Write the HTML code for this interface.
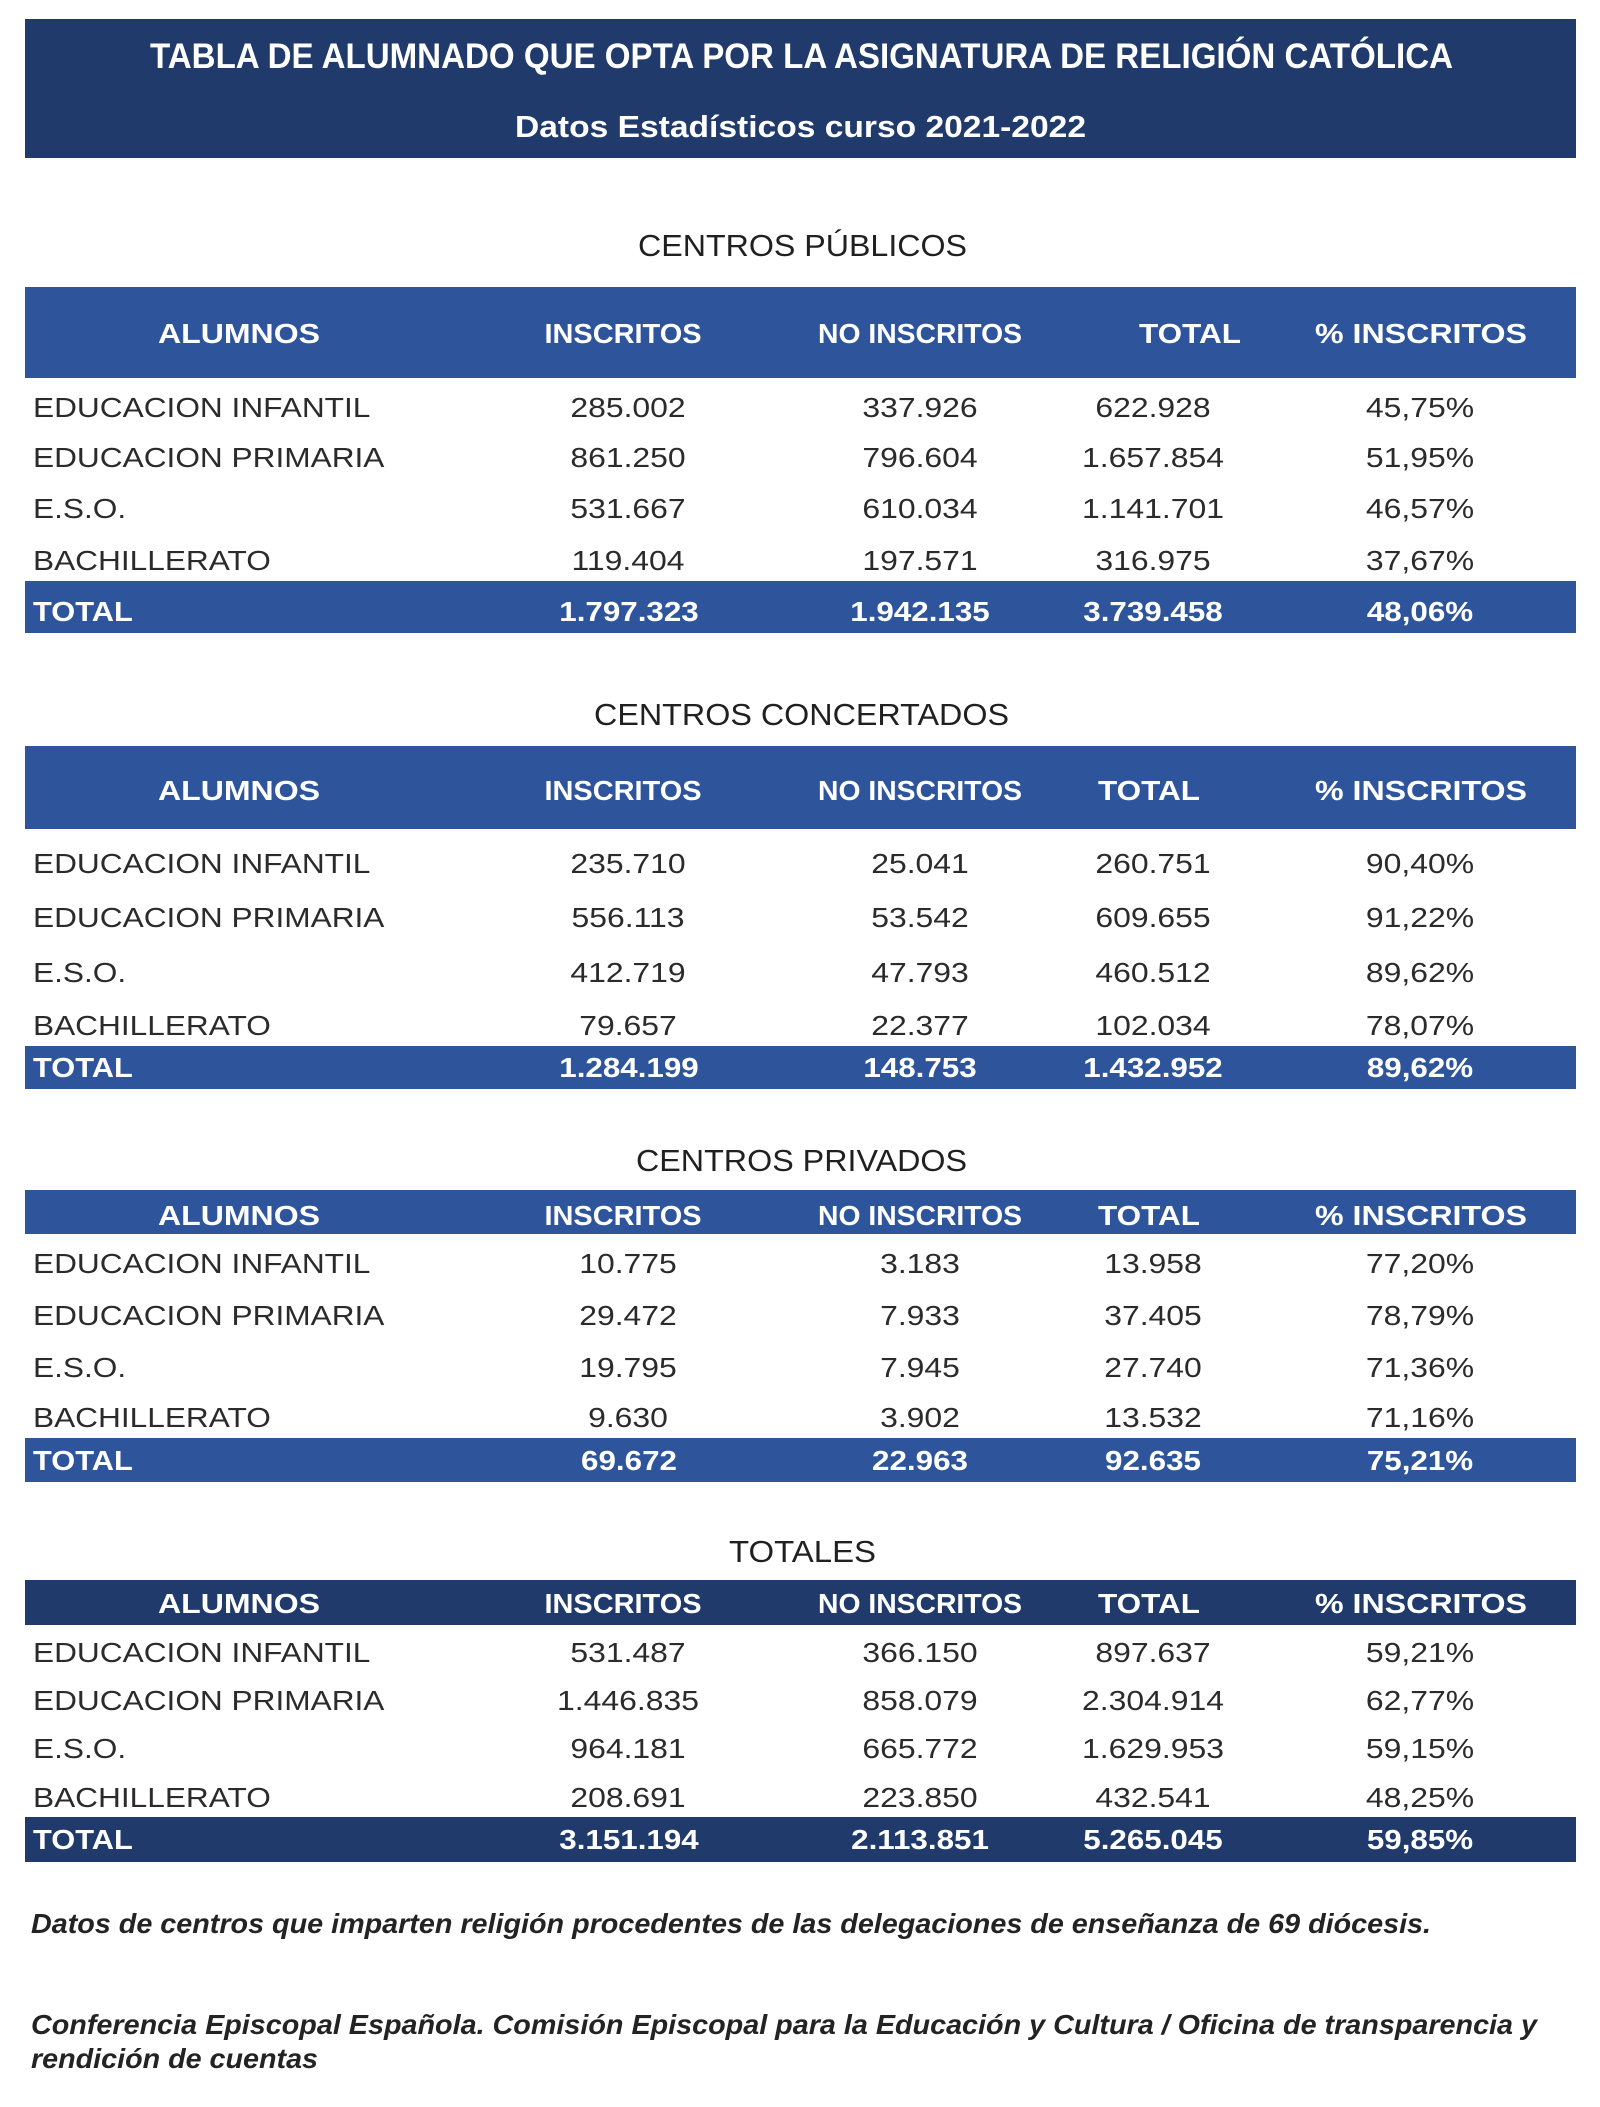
<!DOCTYPE html>
<html>
<head>
<meta charset="utf-8">
<style>
  html,body{margin:0;padding:0;background:#ffffff;}
  svg{display:block;}
  text{font-family:"Liberation Sans", Arial, sans-serif;}
  .d{font-size:28px;fill:#2b2b2b;}
  .h{font-size:28px;font-weight:bold;fill:#ffffff;}
  .hd{font-size:31px;fill:#202020;}
  .fn{font-size:28px;font-weight:bold;font-style:italic;fill:#232323;}
</style>
</head>
<body>
<svg width="1600" height="2107" viewBox="0 0 1600 2107" xmlns="http://www.w3.org/2000/svg">
  <rect x="0" y="0" width="1600" height="2107" fill="#ffffff"/>

  <!-- Title band -->
  <rect x="25" y="19" width="1551" height="139" fill="#203a6c"/>
  <text x="150" y="68" font-size="35" font-weight="bold" fill="#ffffff" textLength="1303" lengthAdjust="spacingAndGlyphs">TABLA DE ALUMNADO QUE OPTA POR LA ASIGNATURA DE RELIGIÓN CATÓLICA</text>
  <text x="515" y="137" font-size="31" font-weight="bold" fill="#ffffff" textLength="571" lengthAdjust="spacingAndGlyphs">Datos Estadísticos curso 2021-2022</text>

  <!-- ============ CENTROS PÚBLICOS ============ -->
  <text class="hd" x="638" y="256" textLength="329" lengthAdjust="spacingAndGlyphs">CENTROS PÚBLICOS</text>
  <rect x="25" y="287" width="1551" height="91" fill="#2e559c"/>
  <text class="h" x="239" y="343" text-anchor="middle" textLength="162" lengthAdjust="spacingAndGlyphs">ALUMNOS</text>
  <text class="h" x="623" y="343" text-anchor="middle" textLength="157" lengthAdjust="spacingAndGlyphs">INSCRITOS</text>
  <text class="h" x="920" y="343" text-anchor="middle" textLength="204" lengthAdjust="spacingAndGlyphs">NO INSCRITOS</text>
  <text class="h" x="1190" y="343" text-anchor="middle" textLength="102" lengthAdjust="spacingAndGlyphs">TOTAL</text>
  <text class="h" x="1421" y="343" text-anchor="middle" textLength="212" lengthAdjust="spacingAndGlyphs">% INSCRITOS</text>

  <text class="d" transform="translate(33,417) scale(1.13,1)">EDUCACION INFANTIL</text>
  <text class="d" text-anchor="middle" transform="translate(628,417) scale(1.14,1)">285.002</text>
  <text class="d" text-anchor="middle" transform="translate(920,417) scale(1.14,1)">337.926</text>
  <text class="d" text-anchor="middle" transform="translate(1153,417) scale(1.14,1)">622.928</text>
  <text class="d" text-anchor="middle" transform="translate(1420,417) scale(1.14,1)">45,75%</text>

  <text class="d" transform="translate(33,467) scale(1.13,1)">EDUCACION PRIMARIA</text>
  <text class="d" text-anchor="middle" transform="translate(628,467) scale(1.14,1)">861.250</text>
  <text class="d" text-anchor="middle" transform="translate(920,467) scale(1.14,1)">796.604</text>
  <text class="d" text-anchor="middle" transform="translate(1153,467) scale(1.14,1)">1.657.854</text>
  <text class="d" text-anchor="middle" transform="translate(1420,467) scale(1.14,1)">51,95%</text>

  <text class="d" transform="translate(33,518) scale(1.13,1)">E.S.O.</text>
  <text class="d" text-anchor="middle" transform="translate(628,518) scale(1.14,1)">531.667</text>
  <text class="d" text-anchor="middle" transform="translate(920,518) scale(1.14,1)">610.034</text>
  <text class="d" text-anchor="middle" transform="translate(1153,518) scale(1.14,1)">1.141.701</text>
  <text class="d" text-anchor="middle" transform="translate(1420,518) scale(1.14,1)">46,57%</text>

  <text class="d" transform="translate(33,570) scale(1.13,1)">BACHILLERATO</text>
  <text class="d" text-anchor="middle" transform="translate(628,570) scale(1.14,1)">119.404</text>
  <text class="d" text-anchor="middle" transform="translate(920,570) scale(1.14,1)">197.571</text>
  <text class="d" text-anchor="middle" transform="translate(1153,570) scale(1.14,1)">316.975</text>
  <text class="d" text-anchor="middle" transform="translate(1420,570) scale(1.14,1)">37,67%</text>

  <rect x="25" y="581" width="1551" height="52" fill="#2e559c"/>
  <text class="h" transform="translate(33,621) scale(1.1,1)">TOTAL</text>
  <text class="h" text-anchor="middle" transform="translate(629,621) scale(1.12,1)">1.797.323</text>
  <text class="h" text-anchor="middle" transform="translate(920,621) scale(1.12,1)">1.942.135</text>
  <text class="h" text-anchor="middle" transform="translate(1153,621) scale(1.12,1)">3.739.458</text>
  <text class="h" text-anchor="middle" transform="translate(1420,621) scale(1.12,1)">48,06%</text>

  <!-- ============ CENTROS CONCERTADOS ============ -->
  <text class="hd" x="594" y="725" textLength="415" lengthAdjust="spacingAndGlyphs">CENTROS CONCERTADOS</text>
  <rect x="25" y="746" width="1551" height="83" fill="#2e559c"/>
  <text class="h" x="239" y="800" text-anchor="middle" textLength="162" lengthAdjust="spacingAndGlyphs">ALUMNOS</text>
  <text class="h" x="623" y="800" text-anchor="middle" textLength="157" lengthAdjust="spacingAndGlyphs">INSCRITOS</text>
  <text class="h" x="920" y="800" text-anchor="middle" textLength="204" lengthAdjust="spacingAndGlyphs">NO INSCRITOS</text>
  <text class="h" x="1149" y="800" text-anchor="middle" textLength="102" lengthAdjust="spacingAndGlyphs">TOTAL</text>
  <text class="h" x="1421" y="800" text-anchor="middle" textLength="212" lengthAdjust="spacingAndGlyphs">% INSCRITOS</text>

  <text class="d" transform="translate(33,873) scale(1.13,1)">EDUCACION INFANTIL</text>
  <text class="d" text-anchor="middle" transform="translate(628,873) scale(1.14,1)">235.710</text>
  <text class="d" text-anchor="middle" transform="translate(920,873) scale(1.14,1)">25.041</text>
  <text class="d" text-anchor="middle" transform="translate(1153,873) scale(1.14,1)">260.751</text>
  <text class="d" text-anchor="middle" transform="translate(1420,873) scale(1.14,1)">90,40%</text>

  <text class="d" transform="translate(33,927) scale(1.13,1)">EDUCACION PRIMARIA</text>
  <text class="d" text-anchor="middle" transform="translate(628,927) scale(1.14,1)">556.113</text>
  <text class="d" text-anchor="middle" transform="translate(920,927) scale(1.14,1)">53.542</text>
  <text class="d" text-anchor="middle" transform="translate(1153,927) scale(1.14,1)">609.655</text>
  <text class="d" text-anchor="middle" transform="translate(1420,927) scale(1.14,1)">91,22%</text>

  <text class="d" transform="translate(33,982) scale(1.13,1)">E.S.O.</text>
  <text class="d" text-anchor="middle" transform="translate(628,982) scale(1.14,1)">412.719</text>
  <text class="d" text-anchor="middle" transform="translate(920,982) scale(1.14,1)">47.793</text>
  <text class="d" text-anchor="middle" transform="translate(1153,982) scale(1.14,1)">460.512</text>
  <text class="d" text-anchor="middle" transform="translate(1420,982) scale(1.14,1)">89,62%</text>

  <text class="d" transform="translate(33,1035) scale(1.13,1)">BACHILLERATO</text>
  <text class="d" text-anchor="middle" transform="translate(628,1035) scale(1.14,1)">79.657</text>
  <text class="d" text-anchor="middle" transform="translate(920,1035) scale(1.14,1)">22.377</text>
  <text class="d" text-anchor="middle" transform="translate(1153,1035) scale(1.14,1)">102.034</text>
  <text class="d" text-anchor="middle" transform="translate(1420,1035) scale(1.14,1)">78,07%</text>

  <rect x="25" y="1046" width="1551" height="43" fill="#2e559c"/>
  <text class="h" transform="translate(33,1077) scale(1.1,1)">TOTAL</text>
  <text class="h" text-anchor="middle" transform="translate(629,1077) scale(1.12,1)">1.284.199</text>
  <text class="h" text-anchor="middle" transform="translate(920,1077) scale(1.12,1)">148.753</text>
  <text class="h" text-anchor="middle" transform="translate(1153,1077) scale(1.12,1)">1.432.952</text>
  <text class="h" text-anchor="middle" transform="translate(1420,1077) scale(1.12,1)">89,62%</text>

  <!-- ============ CENTROS PRIVADOS ============ -->
  <text class="hd" x="636" y="1171" textLength="331" lengthAdjust="spacingAndGlyphs">CENTROS PRIVADOS</text>
  <rect x="25" y="1190" width="1551" height="44" fill="#2e559c"/>
  <text class="h" x="239" y="1225" text-anchor="middle" textLength="162" lengthAdjust="spacingAndGlyphs">ALUMNOS</text>
  <text class="h" x="623" y="1225" text-anchor="middle" textLength="157" lengthAdjust="spacingAndGlyphs">INSCRITOS</text>
  <text class="h" x="920" y="1225" text-anchor="middle" textLength="204" lengthAdjust="spacingAndGlyphs">NO INSCRITOS</text>
  <text class="h" x="1149" y="1225" text-anchor="middle" textLength="102" lengthAdjust="spacingAndGlyphs">TOTAL</text>
  <text class="h" x="1421" y="1225" text-anchor="middle" textLength="212" lengthAdjust="spacingAndGlyphs">% INSCRITOS</text>

  <text class="d" transform="translate(33,1273) scale(1.13,1)">EDUCACION INFANTIL</text>
  <text class="d" text-anchor="middle" transform="translate(628,1273) scale(1.14,1)">10.775</text>
  <text class="d" text-anchor="middle" transform="translate(920,1273) scale(1.14,1)">3.183</text>
  <text class="d" text-anchor="middle" transform="translate(1153,1273) scale(1.14,1)">13.958</text>
  <text class="d" text-anchor="middle" transform="translate(1420,1273) scale(1.14,1)">77,20%</text>

  <text class="d" transform="translate(33,1325) scale(1.13,1)">EDUCACION PRIMARIA</text>
  <text class="d" text-anchor="middle" transform="translate(628,1325) scale(1.14,1)">29.472</text>
  <text class="d" text-anchor="middle" transform="translate(920,1325) scale(1.14,1)">7.933</text>
  <text class="d" text-anchor="middle" transform="translate(1153,1325) scale(1.14,1)">37.405</text>
  <text class="d" text-anchor="middle" transform="translate(1420,1325) scale(1.14,1)">78,79%</text>

  <text class="d" transform="translate(33,1377) scale(1.13,1)">E.S.O.</text>
  <text class="d" text-anchor="middle" transform="translate(628,1377) scale(1.14,1)">19.795</text>
  <text class="d" text-anchor="middle" transform="translate(920,1377) scale(1.14,1)">7.945</text>
  <text class="d" text-anchor="middle" transform="translate(1153,1377) scale(1.14,1)">27.740</text>
  <text class="d" text-anchor="middle" transform="translate(1420,1377) scale(1.14,1)">71,36%</text>

  <text class="d" transform="translate(33,1427) scale(1.13,1)">BACHILLERATO</text>
  <text class="d" text-anchor="middle" transform="translate(628,1427) scale(1.14,1)">9.630</text>
  <text class="d" text-anchor="middle" transform="translate(920,1427) scale(1.14,1)">3.902</text>
  <text class="d" text-anchor="middle" transform="translate(1153,1427) scale(1.14,1)">13.532</text>
  <text class="d" text-anchor="middle" transform="translate(1420,1427) scale(1.14,1)">71,16%</text>

  <rect x="25" y="1438" width="1551" height="44" fill="#2e559c"/>
  <text class="h" transform="translate(33,1470) scale(1.1,1)">TOTAL</text>
  <text class="h" text-anchor="middle" transform="translate(629,1470) scale(1.12,1)">69.672</text>
  <text class="h" text-anchor="middle" transform="translate(920,1470) scale(1.12,1)">22.963</text>
  <text class="h" text-anchor="middle" transform="translate(1153,1470) scale(1.12,1)">92.635</text>
  <text class="h" text-anchor="middle" transform="translate(1420,1470) scale(1.12,1)">75,21%</text>

  <!-- ============ TOTALES ============ -->
  <text class="hd" x="729" y="1562" textLength="147" lengthAdjust="spacingAndGlyphs">TOTALES</text>
  <rect x="25" y="1580" width="1551" height="45" fill="#1f3a6b"/>
  <text class="h" x="239" y="1613" text-anchor="middle" textLength="162" lengthAdjust="spacingAndGlyphs">ALUMNOS</text>
  <text class="h" x="623" y="1613" text-anchor="middle" textLength="157" lengthAdjust="spacingAndGlyphs">INSCRITOS</text>
  <text class="h" x="920" y="1613" text-anchor="middle" textLength="204" lengthAdjust="spacingAndGlyphs">NO INSCRITOS</text>
  <text class="h" x="1149" y="1613" text-anchor="middle" textLength="102" lengthAdjust="spacingAndGlyphs">TOTAL</text>
  <text class="h" x="1421" y="1613" text-anchor="middle" textLength="212" lengthAdjust="spacingAndGlyphs">% INSCRITOS</text>

  <text class="d" transform="translate(33,1662) scale(1.13,1)">EDUCACION INFANTIL</text>
  <text class="d" text-anchor="middle" transform="translate(628,1662) scale(1.14,1)">531.487</text>
  <text class="d" text-anchor="middle" transform="translate(920,1662) scale(1.14,1)">366.150</text>
  <text class="d" text-anchor="middle" transform="translate(1153,1662) scale(1.14,1)">897.637</text>
  <text class="d" text-anchor="middle" transform="translate(1420,1662) scale(1.14,1)">59,21%</text>

  <text class="d" transform="translate(33,1710) scale(1.13,1)">EDUCACION PRIMARIA</text>
  <text class="d" text-anchor="middle" transform="translate(628,1710) scale(1.14,1)">1.446.835</text>
  <text class="d" text-anchor="middle" transform="translate(920,1710) scale(1.14,1)">858.079</text>
  <text class="d" text-anchor="middle" transform="translate(1153,1710) scale(1.14,1)">2.304.914</text>
  <text class="d" text-anchor="middle" transform="translate(1420,1710) scale(1.14,1)">62,77%</text>

  <text class="d" transform="translate(33,1758) scale(1.13,1)">E.S.O.</text>
  <text class="d" text-anchor="middle" transform="translate(628,1758) scale(1.14,1)">964.181</text>
  <text class="d" text-anchor="middle" transform="translate(920,1758) scale(1.14,1)">665.772</text>
  <text class="d" text-anchor="middle" transform="translate(1153,1758) scale(1.14,1)">1.629.953</text>
  <text class="d" text-anchor="middle" transform="translate(1420,1758) scale(1.14,1)">59,15%</text>

  <text class="d" transform="translate(33,1807) scale(1.13,1)">BACHILLERATO</text>
  <text class="d" text-anchor="middle" transform="translate(628,1807) scale(1.14,1)">208.691</text>
  <text class="d" text-anchor="middle" transform="translate(920,1807) scale(1.14,1)">223.850</text>
  <text class="d" text-anchor="middle" transform="translate(1153,1807) scale(1.14,1)">432.541</text>
  <text class="d" text-anchor="middle" transform="translate(1420,1807) scale(1.14,1)">48,25%</text>

  <rect x="25" y="1817" width="1551" height="45" fill="#1f3a6b"/>
  <text class="h" transform="translate(33,1849) scale(1.1,1)">TOTAL</text>
  <text class="h" text-anchor="middle" transform="translate(629,1849) scale(1.12,1)">3.151.194</text>
  <text class="h" text-anchor="middle" transform="translate(920,1849) scale(1.12,1)">2.113.851</text>
  <text class="h" text-anchor="middle" transform="translate(1153,1849) scale(1.12,1)">5.265.045</text>
  <text class="h" text-anchor="middle" transform="translate(1420,1849) scale(1.12,1)">59,85%</text>

  <!-- Footnotes -->
  <text class="fn" x="31" y="1933" textLength="1400" lengthAdjust="spacingAndGlyphs">Datos de centros que imparten religión procedentes de las delegaciones de enseñanza de 69 diócesis.</text>
  <text class="fn" x="31" y="2034" textLength="1506" lengthAdjust="spacingAndGlyphs">Conferencia Episcopal Española. Comisión Episcopal para la Educación y Cultura / Oficina de transparencia y</text>
  <text class="fn" x="31" y="2068" textLength="287" lengthAdjust="spacingAndGlyphs">rendición de cuentas</text>
</svg>
</body>
</html>
